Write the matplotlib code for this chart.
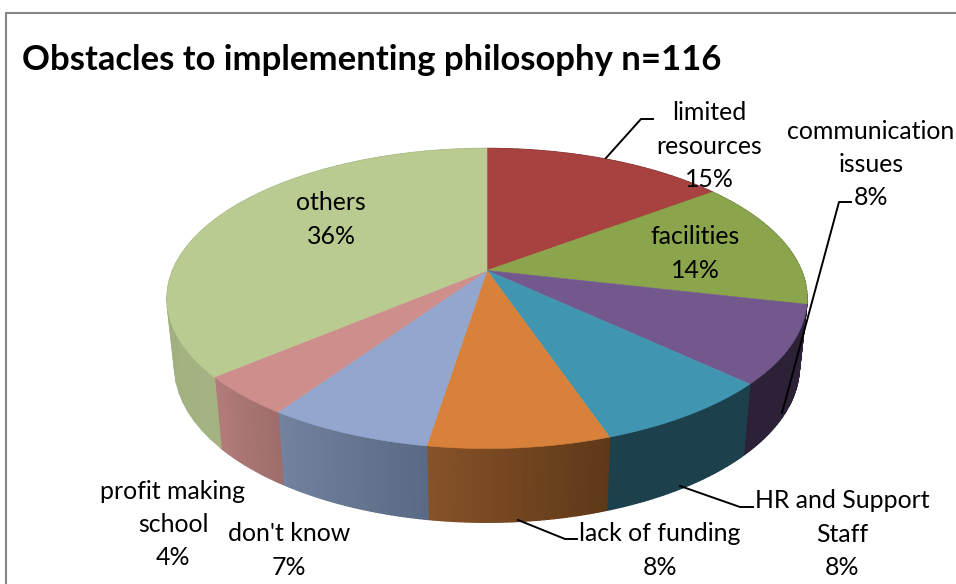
import numpy as np
import matplotlib
matplotlib.use("Agg")
import matplotlib.pyplot as plt
from matplotlib.collections import PolyCollection
from matplotlib.colors import to_rgb
from matplotlib.path import Path
from matplotlib.transforms import Affine2D, Transform

plt.rcParams['font.family'] = ['Lato', 'DejaVu Sans']

# ---- data ----
categories = ["limited\nresources", "facilities", "communication\nissues",
              "HR and Support\nStaff", "lack of funding", "don't know",
              "profit making\nschool", "others"]
values = [14.7, 13.9, 8.4, 7.8, 7.7, 7.0, 4.3, 36.2]
percent_labels = ["15%", "14%", "8%", "8%", "8%", "7%", "4%", "36%"]
title = "Obstacles to implementing philosophy n=116"

# ---- style ----
top_colors = ["#A74240", "#8AA54B", "#72588D", "#4096B1",
              "#D8813A", "#93A7CE", "#CE8E8C", "#B9CB91"]
wall_start = ["#7a2f2e", "#64783a", "#2c2136", "#1c404c",
              "#875228", "#73839f", "#b27c7a", "#97a878"]
wall_end = ["#7a2f2e", "#64783a", "#2c2136", "#1c404c",
            "#5e3818", "#5a6a84", "#9e6d6b", "#a5b383"]
label_pos = [(709, 146), (695, 253.5), (871, 164.5), (842, 534),
             (660, 550.5), (289, 550.5), (173, 524.5), (331, 219.5)]
leaders = [[(606, 158), (641, 119), (653, 119)],
           [(782, 413), (839, 202), (851, 202)],
           [(680, 486), (740, 507), (753, 507)],
           [(518, 520), (565, 539), (577, 539)]]

# ---- projection of the pie disc into picture pixels ----
AX, AY = 487, 270.5
K, RX, RY = 0.1867, 314.4, 144.8


def project(xy):
    xy = np.asarray(xy, float)
    d = 1 + K * xy[..., 1]
    return np.stack([AX + RX * xy[..., 0] / d, AY - RY * xy[..., 1] / d], axis=-1)


def drop(p):
    """Lower rim of the pie for a point of the upper rim."""
    q = np.array(p, float)
    q[..., 0] = AX + (p[..., 0] - AX) * 0.976
    q[..., 1] = AY + 66.6 + (p[..., 1] - AY) * 1.04
    return q


class DiscTransform(Transform):
    input_dims = output_dims = 2
    is_affine = False
    has_inverse = False

    def transform_non_affine(self, values):
        return project(values)

    def transform_path_non_affine(self, path):
        polys = path.to_polygons(Affine2D().scale(600), closed_only=True)
        return Path(project(polys[0] / 600.0))


fig = plt.figure(figsize=(9.56, 5.84), dpi=100, facecolor="white")
ax = fig.add_axes([0, 0, 1, 1])

wedges, _ = ax.pie(values, colors=top_colors, startangle=90, counterclock=False,
                   wedgeprops=dict(linewidth=0.4, zorder=3))
for w, c in zip(wedges, top_colors):
    w.set_edgecolor(c)
    w.set_transform(DiscTransform() + ax.transData)
    w.set_clip_on(False)

ax.set_aspect("auto")
ax.set_xlim(0, 956)
ax.set_ylim(584, 0)
ax.axis("off")

# side walls, drawn from the same values
frac = np.cumsum([0] + list(values)) / sum(values) * 2 * np.pi
quads, quad_cols = [], []
for i in range(len(values)):
    th = np.linspace(frac[i], frac[i + 1], 40)
    top = project(np.stack([np.sin(th), np.cos(th)], axis=-1))
    bot = drop(top)
    c0, c1 = np.array(to_rgb(wall_start[i])), np.array(to_rgb(wall_end[i]))
    for j in range(len(th) - 1):
        quads.append([top[j], top[j + 1], bot[j + 1], bot[j]])
        t = (j + 0.5) / (len(th) - 1)
        # the colour runs left to right on the picture; th runs right to left on the front
        quad_cols.append(c1 * (1 - t) + c0 * t)
ax.add_collection(PolyCollection(quads, facecolors=quad_cols, edgecolors=quad_cols,
                                 linewidths=1.0, zorder=2))

# frame (left and top sides only reach inside the picture)
ax.plot([6, 6, 956], [584, 13, 13], color="#868686", lw=1.5, zorder=1,
        solid_joinstyle="miter")

# leader lines
for pts in leaders:
    xs, ys = zip(*pts)
    ax.plot(xs, ys, color="black", lw=1.4, zorder=4, solid_joinstyle="round")

# data labels
for name, pct, (x, y) in zip(categories, percent_labels, label_pos):
    ax.text(x, y, name + "\n" + pct, ha="center", va="center", fontsize=17.9,
            linespacing=1.54, color="black", zorder=5)

ax.text(22.5, 60.5, title, ha="left", va="center", fontsize=24.95, fontweight="bold",
        color="black", zorder=5)

fig.savefig("out.png", dpi=100)
